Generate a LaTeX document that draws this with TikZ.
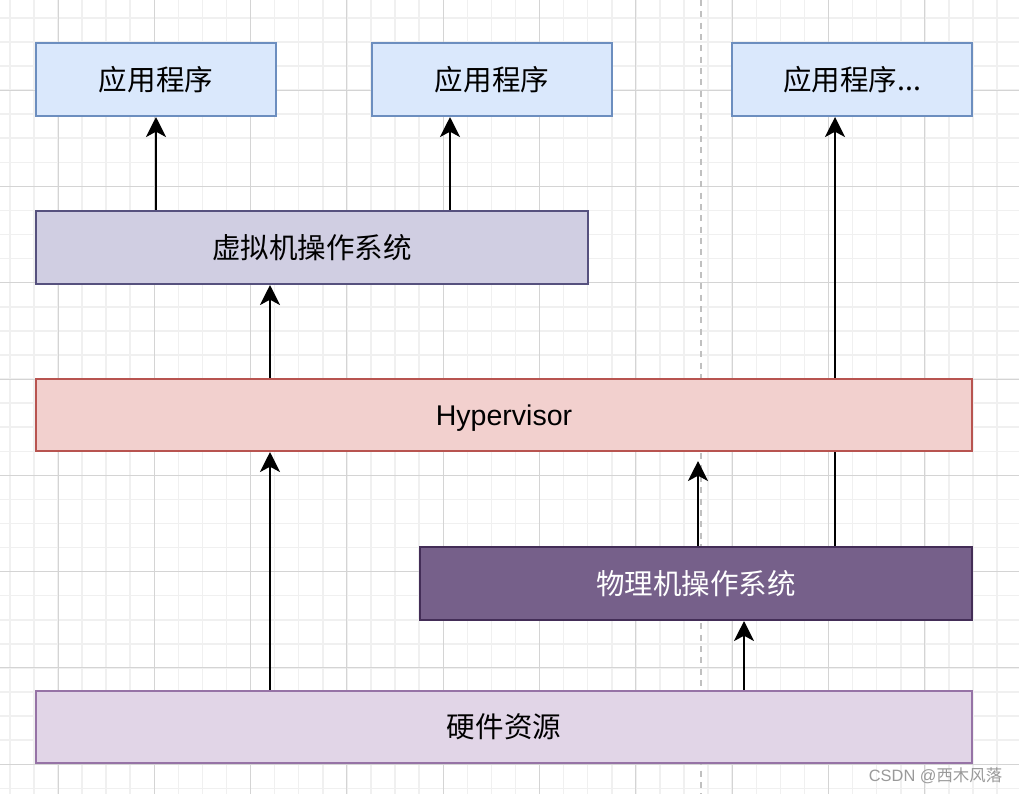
\documentclass[tikz,border=0pt]{standalone}
\usepackage{fontspec}
\setmainfont{Liberation Sans}
\newfontfamily\cjk{Noto Sans CJK SC}
\usetikzlibrary{arrows.meta,calc}
\pgfdeclarelayer{bg}
\pgfdeclarelayer{edges}
\pgfsetlayers{bg,edges,main}
\definecolor{appfill}{HTML}{DAE8FC}
\definecolor{appdraw}{HTML}{6C8EBF}
\definecolor{vmfill}{HTML}{D0CEE2}
\definecolor{vmdraw}{HTML}{56517E}
\definecolor{hypfill}{HTML}{F2D0CE}
\definecolor{hypdraw}{HTML}{B85450}
\definecolor{physfill}{HTML}{76608A}
\definecolor{physdraw}{HTML}{432D57}
\definecolor{hwfill}{HTML}{E1D5E7}
\definecolor{hwdraw}{HTML}{9673A6}
\definecolor{minorg}{HTML}{F0F0F0}
\definecolor{majorg}{HTML}{D4D4D4}
\definecolor{dashg}{HTML}{C0C0C0}
\definecolor{wmark}{HTML}{9A9A9A}
\begin{document}
\begin{tikzpicture}[x=0.75pt,y=-0.75pt,
  box/.style={rectangle,line width=1.5pt,inner sep=0pt,text=black,
    font=\cjk\fontsize{21.4}{25}\selectfont},
  wide/.style={box,minimum width=702pt,minimum height=54pt},
  mid/.style={box,minimum width=414pt,minimum height=54.75pt},
  small/.style={box,minimum width=180pt,minimum height=54.75pt},
  appbox/.style={small,fill=appfill,draw=appdraw},
  arr/.style={line width=2pt,-{Stealth[length=15pt,width=15pt,inset=4pt]}},
  minorgrid/.style={draw=minorg,line width=1.1pt},
  majorgrid/.style={draw=majorg,line width=0.75pt}]
\useasboundingbox (0,0) rectangle (1019,794);
\begin{pgfonlayer}{bg}
  \fill[white] (0,0) rectangle (1019,794);
  \foreach \i in {0,...,41} \draw[minorgrid] ({9.8+24.08*\i},0) -- ++(0,794);
  \foreach \j in {0,...,32} \draw[minorgrid] (0,{17.8+24.08*\j}) -- ++(1019,0);
  \foreach \i in {0,...,9} \draw[majorgrid] ({58+96.33*\i},0) -- ++(0,794);
  \foreach \j in {0,...,7} \draw[majorgrid] (0,{90+96.33*\j}) -- ++(1019,0);
  \draw[dashg,line width=1.5pt,dash pattern=on 4.5pt off 4pt] (700.5,0) -- (700.5,794);
\end{pgfonlayer}

\node[appbox] (app1) at (156,79.5) {应用程序};
\node[appbox] (app2) at (492,79.5) {应用程序};
\node[appbox] (app3) at (852,79.5) {应用程序...};
\node[mid,fill=vmfill,draw=vmdraw] (vmos) at (312,247.5) {虚拟机操作系统};
\node[wide,fill=hypfill,draw=hypdraw,font=\fontsize{21.4}{25}\selectfont,text depth=0pt] (hyp) at (504,415) {Hypervisor};
\node[mid,fill=physfill,draw=physdraw,text=white] (phys) at (696,583.5) {物理机操作系统};
\node[wide,fill=hwfill,draw=hwdraw] (hw) at (504,727) {硬件资源};
\node[text=wmark,inner sep=0pt,font=\fontsize{12.3}{14}\selectfont] (wm) at (935.5,776) {CSDN @{\cjk 西木风落}};

\coordinate (xa) at (450,0);
\coordinate (xb) at (270,0);
\coordinate (xc) at (698,0);
\coordinate (xd) at (835,0);
\coordinate (xe) at (744,0);

\begin{pgfonlayer}{edges}
  \draw[arr] (vmos.north -| app1.south) -- (app1.south);
  \draw[arr] (vmos.north -| xa) -- (app2.south -| xa);
  \draw[arr] (hyp.north -| xb) -- (vmos.south -| xb);
  \draw[arr] (hw.north -| xb) -- (hyp.south -| xb);
  \draw[arr] (phys.north -| xc) -- ($(hyp.south -| xc)+(0,9)$);
  \draw[arr] (phys.north -| xd) -- (app3.south -| xd);
  \draw[arr] (hw.north -| xe) -- (phys.south -| xe);
\end{pgfonlayer}
\end{tikzpicture}
\end{document}
